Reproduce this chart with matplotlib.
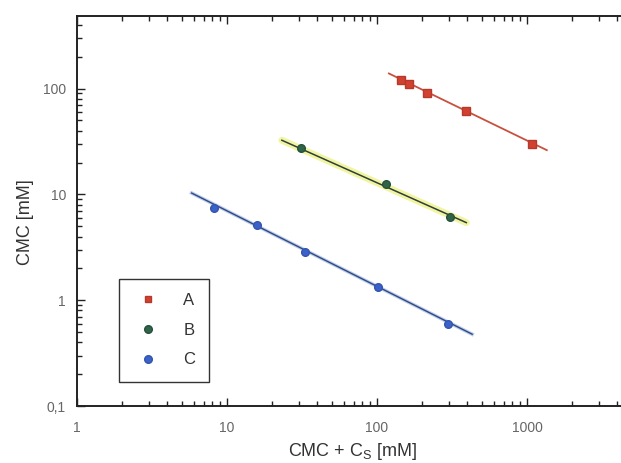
import numpy as np
import matplotlib
matplotlib.use("Agg")
import matplotlib.pyplot as plt
from matplotlib.ticker import FixedLocator, FixedFormatter, LogLocator, NullFormatter
from matplotlib.lines import Line2D

plt.rcParams['font.family'] = ['Liberation Sans', 'DejaVu Sans']

# ---- data ----
series_names = ["A", "B", "C"]

a_x = [144, 163, 217, 394, 1088]
a_y = [120.8, 110, 91.6, 61.5, 29.8]
a_line_x = [120, 1355]
a_line_y = [139, 26.2]

b_x = [31.0, 115, 308]
b_y = [27.7, 12.5, 6.17]
b_line_x = [23.2, 394]
b_line_y = [32.5, 5.41]

c_x = [8.23, 15.9, 33.0, 101, 296]
c_y = [7.50, 5.15, 2.88, 1.34, 0.601]
c_line_x = [5.81, 431]
c_line_y = [10.3, 0.477]

x_ticks = [1, 10, 100, 1000]
x_tick_labels = ["1", "10", "100", "1000"]
y_ticks = [0.1, 1, 10, 100]
y_tick_labels = ["0,1", "1", "10", "100"]

x_label = "CMC + C$_\\mathregular{S}$ [mM]"
y_label = "CMC [mM]"

# ---- figure ----
W, H = 621, 463
fig = plt.figure(figsize=(W / 100, H / 100), dpi=100)
left_px, right_px, bottom_px, top_px = 77, 677, 406, 16
ax = fig.add_axes([left_px / W, (H - bottom_px) / H,
                   (right_px - left_px) / W, (bottom_px - top_px) / H])
ax.set_xscale('log')
ax.set_yscale('log')
ax.set_xlim(1, 10000)
ax.set_ylim(0.1, 10 ** (-1 + (bottom_px - top_px) / 105.8))

# series A
ax.plot(a_line_x, a_line_y, color='#c9503e', lw=1.3, zorder=3)
ax.plot(a_x, a_y, ls='none', marker='s', ms=5.5, color='#d2402f',
        mec='#b53a2c', zorder=4)
# series B (with yellow halo)
ax.plot(b_line_x, b_line_y, color='#ecf27a', lw=5, alpha=0.7,
        solid_capstyle='round', zorder=2)
ax.plot(b_line_x, b_line_y, color='#2f3f3a', lw=1.1, zorder=3)
ax.plot(b_x, b_y, ls='none', marker='o', ms=5.5, color='#2f6448',
        mec='#27503c', zorder=4)
# series C
ax.plot(c_line_x, c_line_y, color='#6f8fd8', lw=2.6, alpha=0.45, zorder=2)
ax.plot(c_line_x, c_line_y, color='#2e4a80', lw=1.0, zorder=3)
ax.plot(c_x, c_y, ls='none', marker='o', ms=5.5, color='#3b62c8',
        mec='#3355b0', zorder=4)

# ticks
for axis, ticks, labels in ((ax.xaxis, x_ticks, x_tick_labels),
                            (ax.yaxis, y_ticks, y_tick_labels)):
    axis.set_major_locator(FixedLocator(ticks))
    axis.set_major_formatter(FixedFormatter(labels))
    axis.set_minor_locator(LogLocator(base=10, subs=np.arange(2, 10), numticks=20))
    axis.set_minor_formatter(NullFormatter())

ax.tick_params(which='both', direction='in', top=True, right=False,
               width=1.0, colors='#222222', labelcolor='#666666',
               labelsize=10)
ax.tick_params(which='major', length=6)
ax.tick_params(which='minor', length=3.5)
ax.tick_params(axis='x', which='both', pad=11)
ax.tick_params(axis='y', which='both', pad=8)

for s in ax.spines.values():
    s.set_linewidth(1.4)
    s.set_color('#222222')

ax.set_xlabel(x_label, fontsize=13, color='#333333')
ax.set_ylabel(y_label, fontsize=13, color='#333333')
ax.xaxis.set_label_coords((353 - left_px) / (right_px - left_px),
                          (bottom_px - 452) / (bottom_px - top_px))
ax.yaxis.set_label_coords((25 - left_px) / (right_px - left_px),
                          (bottom_px - 222) / (bottom_px - top_px))
ax.xaxis.label.set_va('center')
ax.yaxis.label.set_va('center')

# legend
handles = [
    Line2D([], [], ls='none', marker='s', ms=5, color='#d2402f', mec='#b53a2c'),
    Line2D([], [], ls='none', marker='o', ms=5.5, color='#2f6448', mec='#27503c'),
    Line2D([], [], ls='none', marker='o', ms=5.5, color='#3b62c8', mec='#3355b0'),
]
leg = ax.legend(handles, series_names, loc='upper left',
                bbox_to_anchor=((119 - left_px) / (right_px - left_px),
                                (bottom_px - 279) / (bottom_px - top_px)),
                fontsize=12, frameon=True, fancybox=False, framealpha=1,
                edgecolor='#333333', borderaxespad=0, borderpad=0.85,
                handlelength=1.8, handletextpad=1.2, labelspacing=0.88,
                markerscale=1.0)
leg.get_frame().set_linewidth(1.0)
for t in leg.get_texts():
    t.set_color('#333333')

fig.savefig('out.png', dpi=100)
